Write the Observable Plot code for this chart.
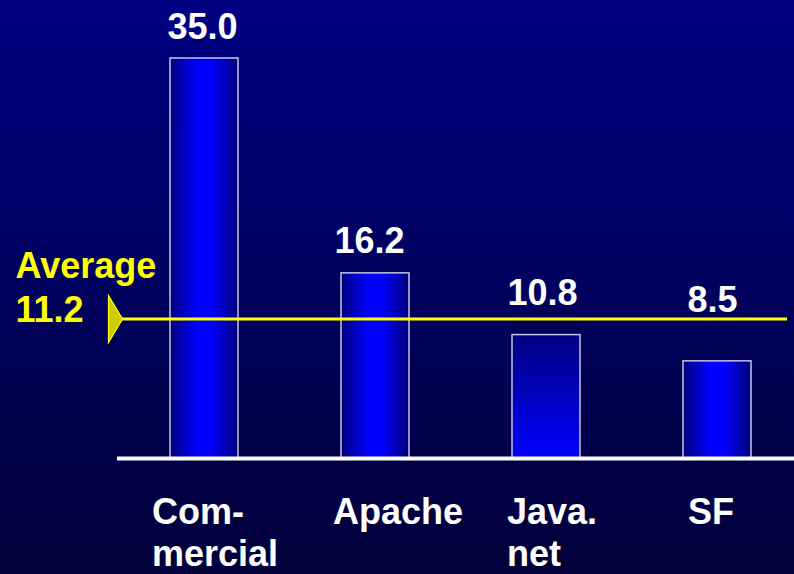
<!DOCTYPE html>
<html><head><meta charset="utf-8">
<script src="https://cdn.jsdelivr.net/npm/d3@7"></script>
<script src="https://cdn.jsdelivr.net/npm/@observablehq/plot@0.6"></script>
<style>
html,body{margin:0;padding:0;background:#000050;overflow:hidden;}
</style></head><body><div id="chart"></div>
<script>
const categories = ["Commercial", "Apache", "Java.net", "SF"];
const categoryLabels = ["Com-\nmercial", "Apache", "Java.\nnet", "SF"];
const values = [35.0, 16.2, 10.8, 8.5];
const valueLabels = ["35.0", "16.2", "10.8", "8.5"];
const averageText = "Average";
const averageValueText = "11.2";
const averageLineValue = 12.2; // where the line is drawn in the picture

const data = categories.map((c, i) => ({category: c, value: values[i], label: valueLabels[i], tick: categoryLabels[i]}));

// styling (pixel offsets of labels)
const labelDx = [-2, -6, -4, -5];
const labelDy = [-20, -20, -30, -49];
const tickDx = [-52.5, -42.5, -39.5, -29.5];
const FONT = "'Liberation Sans', Arial, sans-serif";
const FS = 36;

const arrowSymbol = {
  draw(ctx) {
    ctx.moveTo(-7, -23.5);
    ctx.lineTo(7, 0);
    ctx.lineTo(-7, 23.5);
    ctx.closePath();
  }
};

const textCommon = {fontFamily: FONT, fontWeight: "bold", fontSize: FS};

const plot = Plot.plot({
  width: 794,
  height: 574,
  marginLeft: 117,
  marginRight: 0,
  marginTop: 58,
  marginBottom: 116,
  style: {background: "linear-gradient(to bottom, #000082, #00003a)", color: "white", fontFamily: FONT, overflow: "visible"},
  x: {type: "band", domain: categories, paddingInner: 0.6, paddingOuter: 0.276, align: 0.55, axis: null},
  y: {domain: [0, 35], axis: null},
  marks: [
    Plot.rectY(data.filter(d => d.category !== "Java.net"), {x: "category", y: "value", fill: "url(#hbar)", stroke: "#c4c4e4", strokeWidth: 1.5}),
    Plot.rectY(data.filter(d => d.category === "Java.net"), {x: "category", y: "value", fill: "url(#vbar)", stroke: "#c4c4e4", strokeWidth: 1.5}),
    Plot.ruleY([0], {stroke: "white", strokeWidth: 4}),
    Plot.ruleY([averageLineValue], {stroke: "#ffff00", strokeWidth: 3, insetLeft: 5, insetRight: 7}),
    Plot.dot([averageLineValue], {y: d => d, frameAnchor: "left", dx: -2, symbol: arrowSymbol, fill: "#cccc00", stroke: "#ffff00", strokeWidth: 1.2}),
    Plot.text([averageText], {y: () => averageLineValue, text: d => d, frameAnchor: "left", dx: -102, dy: -40.6, textAnchor: "start", lineAnchor: "bottom", fill: "#ffff00", ...textCommon}),
    Plot.text([averageValueText], {y: () => averageLineValue, text: d => d, frameAnchor: "left", dx: -102, dy: 3.4, textAnchor: "start", lineAnchor: "bottom", fill: "#ffff00", ...textCommon}),
    ...data.map((d, i) => Plot.text([d], {x: "category", y: "value", text: "label", dx: labelDx[i], dy: labelDy[i], lineAnchor: "bottom", fill: "white", ...textCommon})),
    ...data.map((d, i) => Plot.text([d], {x: "category", y: () => 0, text: "tick", dx: tickDx[i], dy: 36, textAnchor: "start", lineAnchor: "top", lineHeight: 42 / FS, fill: "white", ...textCommon}))
  ]
});

const svg = d3.select(plot);
const defs = svg.insert("defs", ":first-child");
const h = defs.append("linearGradient").attr("id", "hbar").attr("x1", 0).attr("x2", 1).attr("y1", 0).attr("y2", 0);
h.append("stop").attr("offset", 0).attr("stop-color", "#00007a");
h.append("stop").attr("offset", 0.4).attr("stop-color", "#0000ff");
h.append("stop").attr("offset", 0.6).attr("stop-color", "#0000ff");
h.append("stop").attr("offset", 1).attr("stop-color", "#00007a");
const v = defs.append("linearGradient").attr("id", "vbar").attr("x1", 0).attr("x2", 0).attr("y1", 0).attr("y2", 1);
v.append("stop").attr("offset", 0).attr("stop-color", "#000080");
v.append("stop").attr("offset", 1).attr("stop-color", "#0000ff");

document.getElementById("chart").appendChild(plot);
</script>
</body></html>
